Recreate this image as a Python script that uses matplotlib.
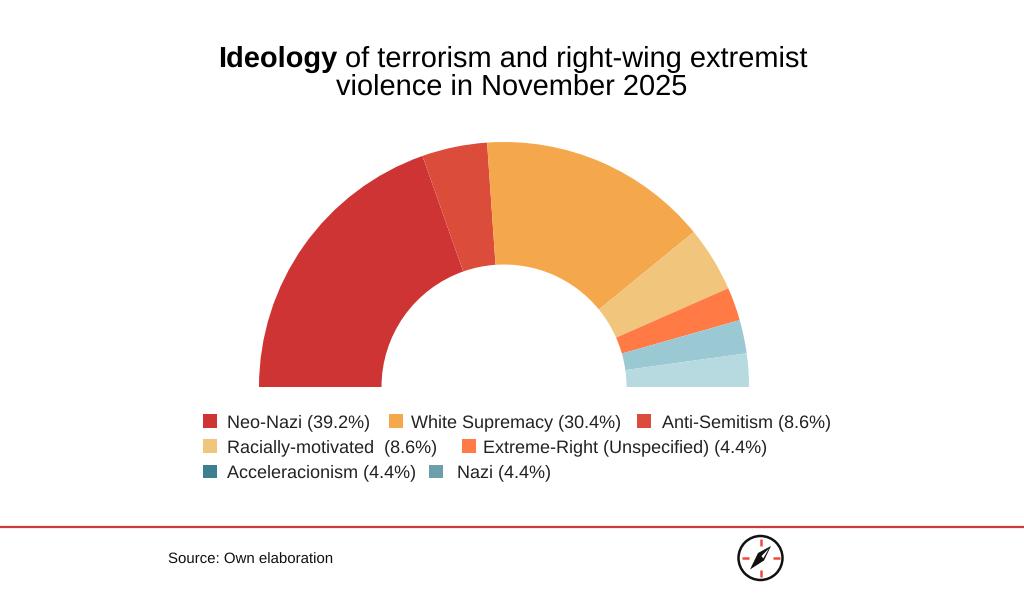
import matplotlib.pyplot as plt
from matplotlib.patches import Circle, Polygon, Rectangle

plt.rcParams['font.family'] = ['Liberation Sans', 'DejaVu Sans']
plt.rcParams['text.hinting'] = 'no_hinting'
plt.rcParams['text.hinting_factor'] = 1

# slices, clockwise from the left end of the half ring
slice_names = ['Neo-Nazi', 'Anti-Semitism', 'White Supremacy', 'Racially-motivated',
               'Extreme-Right', 'Acceleracionism', 'Nazi']
slice_values = [39.2, 8.6, 30.4, 8.6, 4.4, 4.4, 4.4]
slice_colors = ['#CF3434', '#DB4C3A', '#F5A74B', '#F2C57C', '#FF7A45', '#9AC9D4', '#B7DAE0']

legend_labels = ['Neo-Nazi (39.2%)', 'White Supremacy (30.4%)', 'Anti-Semitism (8.6%)',
                 'Racially-motivated  (8.6%)', 'Extreme-Right (Unspecified) (4.4%)',
                 'Acceleracionism (4.4%)', 'Nazi (4.4%)']
legend_colors = ['#CF3434', '#F5A74B', '#DB4C3A', '#F2C57C', '#FF7A45', '#3D7F91', '#6A9FAB']
legend_box_x = [203, 389, 637, 203, 462, 203, 429]
legend_text_x = [227, 411, 662, 227, 483, 227, 457]
legend_box_y = [421, 421, 421, 446, 446, 471.5, 471.5]
legend_base_y = [427, 427, 427, 452, 452, 477, 477]

fig = plt.figure(figsize=(10.24, 5.94), dpi=100)
ax = fig.add_axes([0, 0, 1, 1])


def fy(y):
    # picture pixels run downwards
    return 594 - y


# hidden second half turns the pie into a half ring
ax.pie(slice_values + [sum(slice_values)], colors=slice_colors + ['none'],
       startangle=180, counterclock=False, radius=245, center=(504, fy(387)),
       wedgeprops=dict(width=122.5, linewidth=0), frame=True)
ax.set_xlim(0, 1024)
ax.set_ylim(0, 594)
ax.axis('off')

# title, bold word first
ax.text(218, fy(67), 'Ideology', fontsize=20.6, fontweight='bold', va='baseline', ha='left')
ax.text(345, fy(67), 'of terrorism and right-wing extremist', fontsize=20.8, va='baseline', ha='left')
ax.text(512, fy(95), 'violence in November 2025', fontsize=20.8, va='baseline', ha='center')

for label, color, bx, tx, by, ty in zip(legend_labels, legend_colors, legend_box_x, legend_text_x,
                                        legend_box_y, legend_base_y):
    ax.add_patch(Rectangle((bx, fy(by) - 6.5), 13.5, 13.5, color=color, lw=0))
    ax.text(tx, fy(ty), label, fontsize=13.02, va='baseline', ha='left', color='#222222')

ax.plot([0, 1024], [fy(526.5), fy(526.5)], color='#D0393B', lw=1.6)
ax.text(168, fy(564), 'Source: Own elaboration', fontsize=10.75, va='baseline', ha='left', color='#111111')

# compass logo
cx, cy = 760.5, fy(558)
ax.add_patch(Circle((cx, cy), 22, fc='white', ec='#111111', lw=1.8))
for x0, y0, x1, y1 in [(0, 12, 0, 19), (0, -12, 0, -19), (12, 0, 19, 0), (-12, 0, -19, 0)]:
    ax.plot([cx + x0, cx + x1], [cy + y0, cy + y1], color='#EE4A40', lw=1.8, solid_capstyle='butt')
ax.add_patch(Polygon([(cx + 10.5, cy + 12), (cx - 2.5, cy + 5), (cx - 10.5, cy - 11.5), (cx + 3.5, cy - 2.5)],
                     fc='#111111', lw=0))
ax.add_patch(Polygon([(cx + 8.5, cy + 9.5), (cx + 1, cy + 2), (cx + 2.7, cy - 0.5)], fc='white', lw=0))

fig.savefig('out.png', dpi=100)
